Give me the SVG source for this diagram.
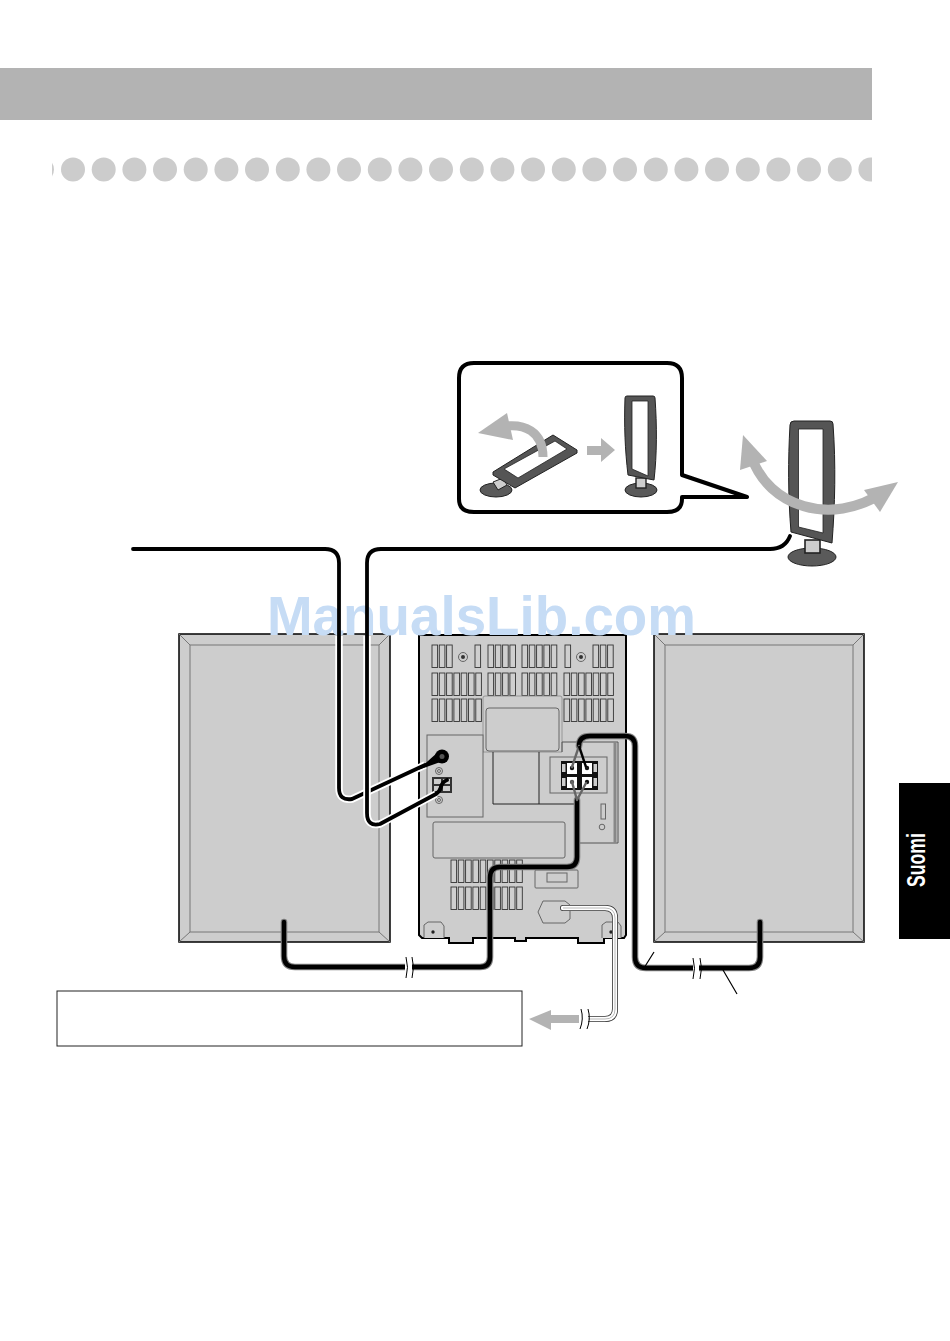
<svg xmlns="http://www.w3.org/2000/svg" width="950" height="1341" viewBox="0 0 950 1341">
<style>
.speaker{fill:#cdcdcd;stroke:#000;stroke-width:1.5}
.bevel{fill:none;stroke:#777;stroke-width:1}
.body{fill:#cdcdcd;stroke:#000}
.panel{fill:#cdcdcd;stroke:#666;stroke-width:1}
.dark{fill:none;stroke:#222;stroke-width:1}
.slot{fill:#cfcfcf;stroke:#333;stroke-width:.9}
.halo{fill:none;stroke:#fff;stroke-width:7.5;stroke-linejoin:round;stroke-linecap:butt}
.wire{fill:none;stroke:#000;stroke-width:3.8;stroke-linejoin:round;stroke-linecap:round}
.shalo{fill:none;stroke:#808080;stroke-width:6.6;stroke-linejoin:round;stroke-linecap:round}
.swire{fill:none;stroke:#000;stroke-width:4.4;stroke-linejoin:round;stroke-linecap:round}
.thin{fill:none;stroke:#666;stroke-width:2.4;stroke-linecap:round}
.ant{fill:#555;stroke:#222;stroke-width:1}
.hole{fill:#fff;stroke:#222;stroke-width:.8}
.foot{fill:#5a5a5a;stroke:#222;stroke-width:1}
.grey{fill:#b3b3b3}
.greyline{fill:none;stroke:#b3b3b3}
</style>
<defs>
<clipPath id="dotClip"><rect x="52" y="150" width="820" height="40"/></clipPath>
<circle id="d" r="12" cy="169.5" fill="#cccccc"/>
<rect id="s" width="5.6" height="22.5" class="slot"/>
</defs>
<g id="header-band"><rect x="0" y="68" width="872" height="52" fill="#b3b3b3"/></g>
<g id="dot-row" clip-path="url(#dotClip)">
<use href="#d" x="42"/><use href="#d" x="73"/><use href="#d" x="103.7"/><use href="#d" x="134.4"/><use href="#d" x="165"/><use href="#d" x="195.7"/><use href="#d" x="226.4"/><use href="#d" x="257"/><use href="#d" x="287.8"/><use href="#d" x="318.4"/><use href="#d" x="349"/><use href="#d" x="379.8"/><use href="#d" x="410.4"/><use href="#d" x="441"/><use href="#d" x="471.8"/><use href="#d" x="502.4"/><use href="#d" x="533"/><use href="#d" x="563.8"/><use href="#d" x="594.4"/><use href="#d" x="625"/><use href="#d" x="655.8"/><use href="#d" x="686.4"/><use href="#d" x="717"/><use href="#d" x="747.8"/><use href="#d" x="778.4"/><use href="#d" x="809"/><use href="#d" x="839.8"/><use href="#d" x="870.4"/>
</g>
<g id="tab-suomi"><rect x="899" y="783" width="51" height="156" fill="#000"/>
<text transform="translate(925,887) rotate(-90)" font-family="'Liberation Sans Narrow','Liberation Sans',sans-serif" font-weight="700" font-size="25" fill="#fff" textLength="54" lengthAdjust="spacingAndGlyphs">Suomi</text></g>

<g id="speaker-left"><rect x="179" y="634" width="211" height="308" class="speaker"/><rect x="190" y="645" width="189" height="287" class="bevel"/><path d="M179 634L190 645M390 634L379 645M179 942L190 932M390 942L379 932" class="bevel"/></g>
<g id="speaker-right"><rect x="654" y="634" width="210" height="308" class="speaker"/><rect x="665" y="645" width="188" height="287" class="bevel"/><path d="M654 634L665 645M864 634L853 645M654 942L665 932M864 942L853 932" class="bevel"/></g>

<g id="main-unit">
<path d="M419 635H626V935L624 938H604V943H578V938H526V941H515V938H473V943H449V938H422L419 935Z" class="body" stroke-width="2"/>
<g id="slots">
<use href="#s" x="432" y="645"/><use href="#s" x="439.3" y="645"/><use href="#s" x="446.6" y="645"/><use href="#s" x="475" y="645"/><use href="#s" x="488" y="645"/><use href="#s" x="495.3" y="645"/><use href="#s" x="502.6" y="645"/><use href="#s" x="509.9" y="645"/><use href="#s" x="522" y="645"/><use href="#s" x="529.3" y="645"/><use href="#s" x="536.6" y="645"/><use href="#s" x="543.9" y="645"/><use href="#s" x="551.2" y="645"/><use href="#s" x="565" y="645"/><use href="#s" x="593" y="645"/><use href="#s" x="600.3" y="645"/><use href="#s" x="607.6" y="645"/>
<use href="#s" x="432" y="673"/><use href="#s" x="439.3" y="673"/><use href="#s" x="446.6" y="673"/><use href="#s" x="453.9" y="673"/><use href="#s" x="461.2" y="673"/><use href="#s" x="468.5" y="673"/><use href="#s" x="475.8" y="673"/><use href="#s" x="488" y="673"/><use href="#s" x="495.3" y="673"/><use href="#s" x="502.6" y="673"/><use href="#s" x="509.9" y="673"/><use href="#s" x="522" y="673"/><use href="#s" x="529.3" y="673"/><use href="#s" x="536.6" y="673"/><use href="#s" x="543.9" y="673"/><use href="#s" x="551.2" y="673"/><use href="#s" x="564" y="673"/><use href="#s" x="571.3" y="673"/><use href="#s" x="578.6" y="673"/><use href="#s" x="585.9" y="673"/><use href="#s" x="593.2" y="673"/><use href="#s" x="600.5" y="673"/><use href="#s" x="607.8" y="673"/>
<use href="#s" x="432" y="699"/><use href="#s" x="439.3" y="699"/><use href="#s" x="446.6" y="699"/><use href="#s" x="453.9" y="699"/><use href="#s" x="461.2" y="699"/><use href="#s" x="468.5" y="699"/><use href="#s" x="475.8" y="699"/><use href="#s" x="564" y="699"/><use href="#s" x="571.3" y="699"/><use href="#s" x="578.6" y="699"/><use href="#s" x="585.9" y="699"/><use href="#s" x="593.2" y="699"/><use href="#s" x="600.5" y="699"/><use href="#s" x="607.8" y="699"/>
<use href="#s" x="451" y="860"/><use href="#s" x="458.3" y="860"/><use href="#s" x="465.6" y="860"/><use href="#s" x="472.9" y="860"/><use href="#s" x="480.2" y="860"/><use href="#s" x="487.5" y="860"/><use href="#s" x="494.8" y="860"/><use href="#s" x="502.1" y="860"/><use href="#s" x="509.4" y="860"/><use href="#s" x="516.7" y="860"/>
<use href="#s" x="451" y="887"/><use href="#s" x="458.3" y="887"/><use href="#s" x="465.6" y="887"/><use href="#s" x="472.9" y="887"/><use href="#s" x="480.2" y="887"/><use href="#s" x="487.5" y="887"/><use href="#s" x="494.8" y="887"/><use href="#s" x="502.1" y="887"/><use href="#s" x="509.4" y="887"/><use href="#s" x="516.7" y="887"/>
</g>
<circle cx="463" cy="657" r="4.5" class="panel"/><circle cx="463" cy="657" r="2" fill="#333"/>
<circle cx="581" cy="657" r="4.5" class="panel"/><circle cx="581" cy="657" r="2" fill="#333"/>
<path d="M483 752V698Q483 696 485 696H560Q562 696 562 698V752Z" fill="#cdcdcd" stroke="#888" stroke-width=".8"/>
<rect x="486" y="708" width="73" height="43" rx="3" class="panel" stroke="#333"/>
<path d="M493 752V804H577M539 752V804" class="dark"/>
<rect x="427" y="735" width="56" height="82" class="panel"/>
<path d="M562 752V742H618V843H578" fill="none" stroke="#555"/>
<path d="M615 742V843" stroke="#888" stroke-width="3" fill="none"/>
<rect x="550" y="757" width="57" height="36" class="panel"/>
<rect x="433" y="822" width="132" height="36" rx="2" class="panel" stroke="#333"/>
<rect x="535" y="870" width="43" height="18" rx="1" class="panel" stroke="#333"/>
<rect x="547" y="873" width="20" height="9" class="panel" stroke="#333"/>
<path d="M543 901H565L570 905V919L565 923H543L538 912Z" class="panel" stroke="#333"/>
<path d="M424 938V925L428 922H441L444 926V938" class="panel" stroke="#222"/>
<circle cx="433" cy="932" r="1.7" fill="#222"/>
<path d="M602 938V925L606 922H618L621 926V938" class="panel" stroke="#222"/>
<circle cx="611" cy="932" r="1.7" fill="#222"/>
<rect x="601" y="804" width="4.5" height="15" class="panel" stroke="#222"/>
<circle cx="602" cy="827" r="2.8" class="panel" stroke="#222"/>
<circle cx="439" cy="771" r="3.5" class="panel"/><circle cx="439" cy="771" r="1.5" class="panel"/>
<circle cx="439" cy="800" r="3.5" class="panel"/><circle cx="439" cy="800" r="1.5" class="panel"/>
<rect x="432" y="777" width="20" height="16" fill="#333"/>
<rect x="434" y="779" width="7" height="5" fill="#ccc"/><rect x="443" y="779" width="7" height="5" fill="#ccc"/>
<rect x="434" y="786" width="7" height="5" fill="#ccc"/><rect x="443" y="786" width="7" height="5" fill="#ccc"/>
<rect x="561" y="761" width="37" height="29" fill="#111"/>
<rect x="567" y="763" width="10" height="11" fill="#fff"/><rect x="582" y="763" width="10" height="11" fill="#fff"/>
<rect x="567" y="777" width="10" height="11" fill="#fff"/><rect x="582" y="777" width="10" height="11" fill="#fff"/>
<rect x="562" y="764" width="3.5" height="8" fill="#ccc"/><rect x="593.5" y="764" width="3.5" height="8" fill="#ccc"/>
<rect x="562" y="778" width="3.5" height="8" fill="#ccc"/><rect x="593.5" y="778" width="3.5" height="8" fill="#ccc"/>
<circle cx="572" cy="768" r="2.2" fill="#111"/><circle cx="587" cy="768" r="2.2" fill="#111"/>
<circle cx="572" cy="782" r="2.2" fill="#555"/><circle cx="587" cy="782" r="2.2" fill="#111"/>
</g>

<g id="inset">
<path d="M474 363H667Q682 363 682 378V475L747 497H682V499Q682 512 667 512H474Q459 512 459 499V378Q459 363 474 363Z" fill="#fff" stroke="#000" stroke-width="4" stroke-linejoin="round"/>
<g id="inset-flat-antenna">
<ellipse cx="496" cy="490" rx="16" ry="7" class="foot"/>
<path d="M493 482L503 478L507 485L498 490Z" fill="#cdcdcd" stroke="#222"/>
<path d="M553 435L577 450V453L515 488L493 475V472Z" class="ant"/>
<path d="M555 441L567 449L518 478L504 469Z" class="hole"/>
</g>
<path d="M543 457C543 432 525 422 500 427" class="greyline" stroke-width="9"/>
<path d="M478 433L507 413L513 440Z" class="grey"/>
<path d="M587 446H601V438L615 450L601 462V455H587Z" class="grey"/>
<g id="inset-upright-antenna">
<ellipse cx="641" cy="490" rx="16" ry="7" class="foot"/>
<rect x="636" y="478" width="10" height="10" fill="#cdcdcd" stroke="#222" stroke-width="1.4"/>
<path d="M627 396H653Q655 396 655 398C657 425 657 455 654 480L628 475C625 450 624 425 625 398Q625 396 627 396Z" class="ant"/>
<path d="M632 401H648V476L632 469Z" class="hole"/>
</g>
</g>

<g id="antenna">
<ellipse cx="812" cy="557" rx="24" ry="9" class="foot"/>
<rect x="805" y="540" width="15" height="13" fill="#cdcdcd" stroke="#222" stroke-width="1.6"/>
<path d="M794 421H830Q833 421 833 424C836 465 835 505 832 543L791 532C788 495 788 460 790 425Q790 421 794 421Z" class="ant"/>
<path d="M798.5 429H823V533L798.5 527Z" class="hole"/>
<path d="M752 458C768 505 830 528 884 492" class="greyline" stroke-width="10"/>
<path d="M743 435L740 470L767 461Z" class="grey"/>
<path d="M898 482L864 490L880 512Z" class="grey"/>
</g>

<g id="note-box"><rect x="57" y="991" width="465" height="55" fill="#fff" stroke="#222" stroke-width="1"/></g>
<g id="watermark"><text x="267" y="635" font-family="'Liberation Sans',Arial,sans-serif" font-weight="700" font-size="55" fill="#c6dcf5" textLength="429" lengthAdjust="spacingAndGlyphs">ManualsLib.com</text></g>

<g id="connectors">
<path d="M339 636V788Q339 801 352 799L425 765" class="halo"/>
<path d="M133 549H325Q339 549 339 563V788Q339 801 352 799L425 765" class="wire"/>
<path d="M418 770L438 752L446 760Z" fill="#000"/>
<circle cx="442" cy="756.5" r="7" fill="#000"/><circle cx="442" cy="756.5" r="2.5" fill="#555"/>
<path d="M367 636V813Q367 827 380 824L436 794" class="halo"/>
<path d="M790 536Q785 549 770 549H381Q367 549 367 563V813Q367 827 380 824L436 794Q440 791 441 787Q442 782 447 780" class="wire"/>
<path d="M284 922V956Q284 967 295 967H480Q490 967 490 957V878Q490 867 500 867H567Q577 867 577 857V800" class="shalo"/>
<path d="M284 922V956Q284 967 295 967H480Q490 967 490 957V878Q490 867 500 867H567Q577 867 577 857V800" class="swire"/>
<path d="M577 800L572 782M577 800L586 783" class="thin"/>
<path d="M760 922V957Q760 968 749 968H646Q635 968 635 957V746Q635 736 625 736H590Q579 736 579 746" class="shalo"/>
<path d="M760 922V957Q760 968 749 968H646Q635 968 635 957V746Q635 736 625 736H590Q579 736 579 746" class="swire"/>
<path d="M579 746L572 767" class="thin"/><path d="M579 746L586 767" fill="none" stroke="#000" stroke-width="2.4"/>
<path d="M563 908H605Q615 908 615 918V1009Q615 1019 605 1019H585" fill="none" stroke="#333" stroke-width="6" stroke-linecap="round"/>
<path d="M563 908H605Q615 908 615 918V1009Q615 1019 605 1019H585" fill="none" stroke="#fff" stroke-width="4.4" stroke-linecap="round"/>
<path d="M563 908H605Q615 908 615 918V1009Q615 1019 605 1019H585" fill="none" stroke="#999" stroke-width=".7"/>
<path d="M644 968L654 952M723 970L737 994" stroke="#000" stroke-width="1.2" fill="none"/>
<path d="M405 956H412V978H405Z" fill="#fff"/>
<path d="M406 957Q409 967 406 978M412 957Q415 967 412 978" stroke="#000" fill="none"/>
<path d="M693 956H699V978H693Z" fill="#fff"/>
<path d="M693 958Q696 968 693 979M700 958Q703 968 700 979" stroke="#000" fill="none"/>
<path d="M581 1010H588V1029H581Z" fill="#fff"/>
<path d="M581 1009Q584 1019 580 1029M588 1009Q591 1019 587 1029" stroke="#000" fill="none"/>
<path d="M579 1015V1023H551V1030L529 1019L551 1010V1015Z" class="grey"/>
</g>
</svg>
